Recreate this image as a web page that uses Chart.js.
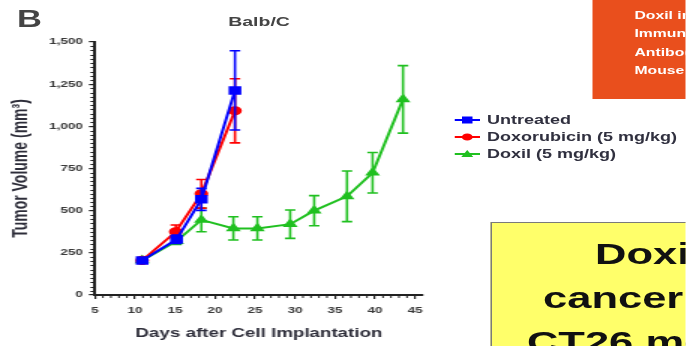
<!DOCTYPE html>
<html><head><meta charset="utf-8">
<script src="https://cdn.jsdelivr.net/npm/chart.js@4.4.1/dist/chart.umd.min.js"></script>
<style>
html,body{margin:0;padding:0;background:#fff;overflow:hidden;width:686px;height:346px;}
#stage{position:absolute;left:0;top:0;width:457.33px;height:346px;transform:scaleX(1.5);transform-origin:0 0;overflow:hidden;font-family:"Liberation Sans",Arial,sans-serif;}
#cv{position:absolute;left:0;top:0;}
.abs{position:absolute;white-space:nowrap;}
.lg{position:absolute;left:303px;height:14px;display:flex;align-items:center;white-space:nowrap;font-weight:bold;font-size:12px;color:#30303f;}
.lg span{margin-left:4.7px;}
#orange{position:absolute;left:395.3px;top:0;width:70px;height:99px;background:#E94F1D;}
#orange div{position:absolute;left:27.7px;font-weight:bold;font-size:10.5px;color:#fff;white-space:nowrap;line-height:12px;}
#yellow{position:absolute;left:327.3px;top:222px;width:140px;height:140px;background:#FFFF6A;border:1.5px solid #7a7a7a;box-sizing:border-box;}
.yl{position:absolute;font-weight:bold;font-size:29px;line-height:29px;color:#111;white-space:nowrap;}
</style></head><body>
<div id="stage">
  <canvas id="cv" width="300" height="346"></canvas>
  <div class="abs" style="left:11.3px;top:8px;font-size:23px;font-weight:bold;color:#444;line-height:23px;">B</div>
  <div class="abs" style="left:122.7px;width:100px;text-align:center;top:15px;font-size:13px;font-weight:bold;color:#444;line-height:13px;">Balb/C</div>

  <div class="lg" style="top:113px"><svg width="17" height="14"><line x1="0" y1="7" x2="17" y2="7" stroke="#0000ff" stroke-width="2"/><rect x="5" y="3.5" width="7" height="7" fill="#0000ff"/></svg><span>Untreated</span></div>
  <div class="lg" style="top:130px"><svg width="17" height="14"><line x1="0" y1="7" x2="17" y2="7" stroke="#ff0000" stroke-width="2"/><circle cx="8.5" cy="7" r="3.6" fill="#ff0000"/></svg><span>Doxorubicin (5 mg/kg)</span></div>
  <div class="lg" style="top:147px"><svg width="17" height="14"><line x1="0" y1="7" x2="17" y2="7" stroke="#20c020" stroke-width="2"/><polygon points="8.5,3 12.5,10 4.5,10" fill="#20c020"/></svg><span>Doxil (5 mg/kg)</span></div>

  <div id="orange">
    <div style="top:9px">Doxil induced</div>
    <div style="top:27px">Immune response</div>
    <div style="top:46px">Antibodies in</div>
    <div style="top:64px">Mouse model</div>
  </div>

  <div id="yellow"></div>
  <div class="yl" style="left:396.7px;top:239.5px;">Doxil inhibits</div>
  <div class="yl" style="left:362px;top:283.5px;">cancer growth in</div>
  <div class="yl" style="left:351.3px;top:327.5px;">CT26 mouse model</div>
</div>
<script>
// ---- data ----
const untreatedDays = [10.9, 15.2, 18.3, 22.5];
const untreatedVol  = [205, 330, 567, 1213];
const untreatedErr  = [15, 25, 65, 235];

const doxoDays = [10.9, 15.1, 18.3, 22.5];
const doxoVol  = [205, 375, 600, 1092];
const doxoErr  = [15, 40, 85, 190];

const doxilDays = [10.9, 15.2, 18.3, 22.3, 25.3, 29.4, 32.4, 36.5, 39.7, 43.5];
const doxilVol  = [205, 320, 445, 395, 395, 420, 500, 585, 725, 1160];
const doxilErr  = [10, 20, 70, 69, 69, 84, 89, 150, 120, 200];

const xTickValues = [5, 10, 15, 20, 25, 30, 35, 40, 45];
const yTickValues = [0, 250, 500, 750, 1000, 1250, 1500];

const seriesNames = ['Untreated', 'Doxorubicin (5 mg/kg)', 'Doxil (5 mg/kg)'];

const pts = (xs, ys) => xs.map((x, i) => ({x: x, y: ys[i]}));
const FONT = '"Liberation Sans", Arial, sans-serif';

const errorBars = {
  id: 'errorBars',
  afterDatasetDraw(chart, args) {
    const ds = chart.data.datasets[args.index];
    if (!ds.errors) return;
    const ctx = chart.ctx, y = chart.scales.y;
    ctx.save();
    ctx.strokeStyle = ds.borderColor;
    ctx.lineWidth = 1.6;
    args.meta.data.forEach((el, j) => {
      const v = ds.data[j].y, e = ds.errors[j];
      const top = y.getPixelForValue(v + e), bot = y.getPixelForValue(v - e);
      ctx.beginPath();
      ctx.moveTo(el.x, top); ctx.lineTo(el.x, bot);
      ctx.moveTo(el.x - 3.5, top); ctx.lineTo(el.x + 3.5, top);
      ctx.moveTo(el.x - 3.5, bot); ctx.lineTo(el.x + 3.5, bot);
      ctx.stroke();
    });
    ctx.restore();
  }
};

const minorTicks = {
  id: 'minorTicks',
  afterDraw(chart) {
    const {ctx, chartArea: a, scales: {x, y}} = chart;
    ctx.save();
    ctx.strokeStyle = '#222';
    ctx.lineWidth = 1;
    ctx.beginPath();
    for (let v = 25; v < 1500; v += 25) {
      if (v % 250 === 0) continue;
      const py = Math.round(y.getPixelForValue(v)) + 0.5;
      ctx.moveTo(a.left - 3, py); ctx.lineTo(a.left, py);
    }
    for (let d = 6; d < 46; d++) {
      if (d % 5 === 0) continue;
      const px = x.getPixelForValue(d);
      ctx.moveTo(px, a.bottom); ctx.lineTo(px, a.bottom + 3);
    }
    ctx.stroke();
    ctx.restore();
  }
};

new Chart(document.getElementById('cv'), {
  type: 'line',
  data: {
    datasets: [
      {label: seriesNames[0], data: pts(untreatedDays, untreatedVol), errors: untreatedErr,
       borderColor: '#0000ff', backgroundColor: '#0000ff', pointStyle: 'rect', pointRadius: 4.6, borderWidth: 2},
      {label: seriesNames[1], data: pts(doxoDays, doxoVol), errors: doxoErr,
       borderColor: '#ff0000', backgroundColor: '#ff0000', pointStyle: 'circle', pointRadius: 3.6, borderWidth: 2},
      {label: seriesNames[2], data: pts(doxilDays, doxilVol), errors: doxilErr,
       borderColor: '#20c020', backgroundColor: '#20c020', pointStyle: 'triangle', pointRadius: 3.8, borderWidth: 2}
    ]
  },
  options: {
    responsive: false,
    animation: false,
    devicePixelRatio: 1,
    layout: {padding: {left: 0, right: 18, top: 42, bottom: 0}},
    plugins: {legend: {display: false}, tooltip: {enabled: false}},
    elements: {line: {tension: 0}, point: {borderWidth: 0}},
    scales: {
      x: {
        type: 'linear', min: 5, max: 46,
        afterBuildTicks: s => { s.ticks = xTickValues.map(v => ({value: v})); },
        afterFit: s => { s.height = 51; },
        grid: {display: true, drawOnChartArea: false, drawTicks: true, tickLength: 4, color: '#222', lineWidth: 1.2},
        border: {display: true, color: '#222', width: 2},
        ticks: {font: {family: FONT, size: 9, weight: 'bold'}, color: '#3a3a3a', padding: 6, maxRotation: 0, autoSkip: false},
        title: {display: true, text: 'Days after Cell Implantation', font: {family: FONT, size: 12.5, weight: 'bold'}, color: '#2e2e3a', padding: {top: 0, bottom: 4.5}}
      },
      y: {
        type: 'linear', min: 0, max: 1500,
        afterBuildTicks: s => { s.ticks = yTickValues.map(v => ({value: v})); },
        afterFit: s => { s.width = 63.3; },
        grid: {display: true, drawOnChartArea: false, drawTicks: true, tickLength: 4, color: '#222', lineWidth: 1.2},
        border: {display: true, color: '#222', width: 2},
        ticks: {font: {family: FONT, size: 9, weight: 'bold'}, color: '#3a3a3a', padding: 4,
                callback: v => v.toLocaleString('en-US')},
        title: {display: true, text: 'Tumor Volume (mm³)', font: {family: FONT, size: 14, weight: 'bold'}, color: '#2e2e3a', padding: {top: 6, bottom: 0}}
      }
    }
  },
  plugins: [errorBars, minorTicks]
});
</script>
</body></html>
